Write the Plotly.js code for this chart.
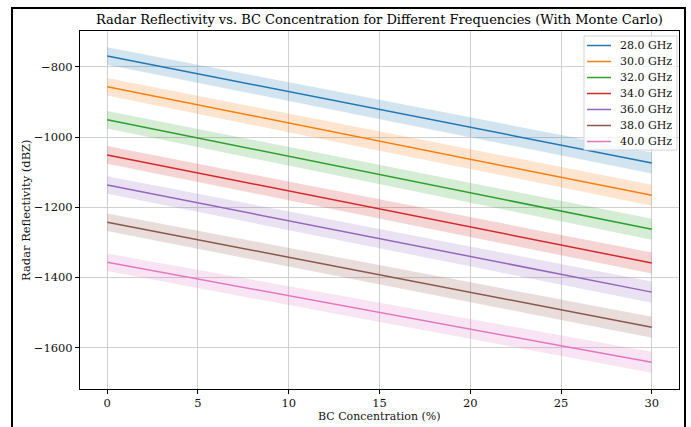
<!DOCTYPE html>
<html>
<head>
<meta charset="utf-8">
<script src="https://cdn.plot.ly/plotly-3.0.1.min.js"></script>
<style>
  html, body { margin: 0; padding: 0; background: #fff; }
  #wrap { position: relative; width: 691px; height: 427px; overflow: hidden; }
  #chart { position: absolute; left: 0; top: 0; width: 691px; height: 427px; }
  #frame { position: absolute; left: 11px; top: 7px; width: 675px; height: 440px;
           border: 2px solid #000; pointer-events: none; box-sizing: border-box; }
</style>
</head>
<body>
<div id="wrap">
  <div id="chart"></div>
  <div id="frame"></div>
</div>
<script>
// BC concentration (%)
const bcConc = [0, 5, 10, 15, 20, 25, 30];
// Frequencies (legend labels)
const freqLabels = ["28.0 GHz", "30.0 GHz", "32.0 GHz", "34.0 GHz", "36.0 GHz", "38.0 GHz", "40.0 GHz"];
// Mean reflectivity (dBZ) per frequency
const z28 = [-769, -820, -871, -921, -972, -1023, -1074];
const z30 = [-857, -909, -960, -1012, -1063, -1115, -1166];
const z32 = [-951, -1003, -1055, -1107, -1159, -1211, -1263];
const z34 = [-1051, -1102, -1154, -1205, -1256, -1308, -1359];
const z36 = [-1137, -1188, -1239, -1290, -1340, -1391, -1442];
const z38 = [-1243, -1293, -1343, -1393, -1442, -1492, -1542];
const z40 = [-1357, -1405, -1452, -1500, -1547, -1595, -1642];
// Monte Carlo spread (half-width of shaded band, dBZ)
const spread = [25, 26, 27, 27, 28, 29, 30];
// tick values
const yTicks = [-800, -1000, -1200, -1400, -1600];
const xTicks = [0, 5, 10, 15, 20, 25, 30];
// text
const titleText = "Radar Reflectivity vs. BC Concentration for Different Frequencies (With Monte Carlo)";
const xTitle = "BC Concentration (%)";
const yTitle = "Radar Reflectivity (dBZ)";

const series = [z28, z30, z32, z34, z36, z38, z40];
const colors = ["#1f77b4", "#ff7f0e", "#2ca02c", "#d62728", "#9467bd", "#8c564b", "#e377c2"];
const fills = ["rgba(31,119,180,0.2)", "rgba(255,127,14,0.2)", "rgba(44,160,44,0.2)",
               "rgba(214,39,40,0.2)", "rgba(148,103,189,0.2)", "rgba(140,86,75,0.2)",
               "rgba(227,119,194,0.2)"];

const traces = [];
series.forEach((z, i) => {
  const lower = z.map((v, k) => v - spread[k]);
  const upper = z.map((v, k) => v + spread[k]);
  traces.push({x: bcConc, y: lower, mode: "lines", line: {width: 0, color: fills[i]},
               showlegend: false, hoverinfo: "skip"});
  traces.push({x: bcConc, y: upper, mode: "lines", line: {width: 0, color: fills[i]},
               fill: "tonexty", fillcolor: fills[i], showlegend: false, hoverinfo: "skip"});
  traces.push({x: bcConc, y: z, mode: "lines", name: freqLabels[i], showlegend: false,
               line: {color: colors[i], width: 1.5}});
});

// plot-area geometry in pixels (for the matplotlib-style legend and axis titles)
const W = 691, H = 427, L = 80, R = 12, T = 31, B = 38;
const pw = W - L - R, ph = H - T - B;
const px = v => (v - L) / pw;
const py = v => (H - B - v) / ph;
const font = "DejaVu Serif, serif";

const shapes = [{type: "rect", xref: "paper", yref: "paper",
                 x0: px(584), x1: px(677), y0: py(36), y1: py(150),
                 fillcolor: "rgba(255,255,255,0.8)", line: {color: "#d5d5d5", width: 1}, layer: "above"}];
const annotations = [];
freqLabels.forEach((lab, i) => {
  const yy = 45.5 + 16 * i;
  shapes.push({type: "line", xref: "paper", yref: "paper", x0: px(587), x1: px(611),
               y0: py(yy), y1: py(yy), line: {color: colors[i], width: 1.5}, layer: "above"});
  annotations.push({xref: "paper", yref: "paper", x: px(618), y: py(yy), xanchor: "left",
                    yanchor: "middle", showarrow: false, text: lab,
                    font: {family: font, size: 11, color: "#111"}});
});
// axis titles
annotations.push({xref: "paper", yref: "paper", x: px(379.5), y: py(416), xanchor: "center",
                  yanchor: "middle", showarrow: false, text: xTitle,
                  font: {family: font, size: 11, color: "#111"}});
annotations.push({xref: "paper", yref: "paper", x: px(26), y: py(210), xanchor: "center",
                  yanchor: "middle", showarrow: false, text: yTitle, textangle: -90,
                  font: {family: font, size: 11.5, color: "#111"}});

const layout = {
  width: W, height: H,
  margin: {l: L, r: R, t: T, b: B},
  paper_bgcolor: "rgba(0,0,0,0)",
  plot_bgcolor: "#fff",
  font: {family: font, size: 11, color: "#111"},
  title: {text: titleText,
          font: {family: font, size: 13, color: "#000"},
          x: 0.549, xanchor: "center", y: 1 - 19/427, yanchor: "middle", yref: "container"},
  xaxis: {range: [-1.5, 31.5], tickvals: xTicks, ticks: "outside", ticklen: 3.5,
          tickcolor: "#000", showline: true, mirror: true, linecolor: "#000", linewidth: 1,
          showgrid: true, gridcolor: "#d0d0d0", gridwidth: 1, zeroline: false,
          tickfont: {family: font, size: 11.5, color: "#111"}},
  yaxis: {range: [-1718, -698], tickvals: yTicks, ticks: "outside", ticklen: 4,
          tickcolor: "#000", showline: true, mirror: true, linecolor: "#000", linewidth: 1,
          showgrid: true, gridcolor: "#d0d0d0", gridwidth: 1, zeroline: false,
          tickfont: {family: font, size: 11.5, color: "#111"}},
  shapes: shapes,
  annotations: annotations,
  showlegend: false
};

Plotly.newPlot("chart", traces, layout, {staticPlot: true, displayModeBar: false});
</script>
</body>
</html>
